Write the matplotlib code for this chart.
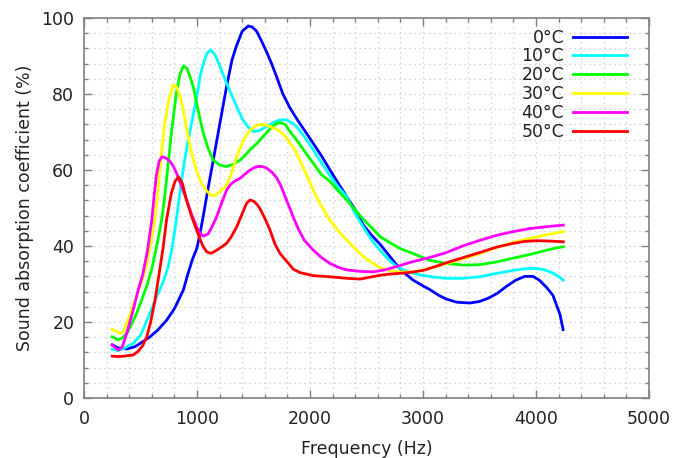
import matplotlib
matplotlib.use("Agg")
import matplotlib.pyplot as plt
from matplotlib.ticker import MultipleLocator

labels = ["0°C", "10°C", "20°C", "30°C", "40°C", "50°C"]
colors = ["#0000ff", "#00ffff", "#00ff00", "#ffff00", "#ff00ff", "#ff0000"]

f0 = [250, 300, 380, 450, 520, 584, 650, 732, 800, 879, 923, 960, 1000, 1027, 1056, 1100, 1144, 1204, 1262, 1310, 1351, 1400, 1454, 1490, 1528, 1570, 1617, 1660, 1705, 1760, 1820, 1882, 1950, 2029, 2100, 2177, 2250, 2325, 2400, 2472, 2540, 2619, 2700, 2767, 2840, 2914, 3000, 3062, 3140, 3209, 3300, 3416, 3500, 3580, 3655, 3740, 3820, 3900, 3973, 4030, 4097, 4150, 4212, 4240]
v0 = [14, 13.2, 12.9, 13.5, 14.8, 16.1, 17.8, 20.5, 23.5, 28.4, 33, 36.5, 39.5, 43.3, 48, 55.5, 62.6, 72.5, 82, 89, 92.8, 96.5, 97.9, 97.6, 96.5, 94, 91, 88, 84.5, 80, 76.5, 73.5, 70.5, 67, 63.8, 60, 56.5, 53, 49.5, 45.5, 43, 40.5, 37.5, 35, 32.8, 31, 29.5, 28.5, 27, 26, 25.2, 25, 25.4, 26.3, 27.5, 29.4, 31, 32, 32, 31, 29, 27, 22, 18]

f10 = [250, 300, 350, 436, 500, 584, 640, 700, 745, 780, 817, 832, 860, 890, 920, 950, 997, 1030, 1056, 1090, 1121, 1160, 1204, 1262, 1310, 1351, 1400, 1440, 1480, 1513, 1560, 1620, 1675, 1735, 1794, 1850, 1882, 1950, 2029, 2100, 2177, 2250, 2325, 2400, 2472, 2540, 2619, 2700, 2767, 2870, 2973, 3100, 3209, 3357, 3504, 3652, 3800, 3900, 4006, 4080, 4153, 4200, 4242]
v10 = [12.8, 12.5, 13, 14.4, 16.5, 22.3, 26.5, 30.5, 34.5, 39.5, 46.8, 50.3, 56.5, 62.5, 67.5, 72, 79, 85, 88, 90.8, 91.6, 90.3, 87.2, 82.8, 79.5, 76.7, 73.5, 71.8, 70.4, 70.1, 70.5, 71.5, 72.5, 73.2, 73.2, 72.2, 71.4, 68.8, 65.3, 62, 58.5, 55.5, 53, 48.5, 45, 41.8, 38.9, 36.3, 34.6, 33.2, 32.4, 31.8, 31.5, 31.5, 31.9, 32.8, 33.6, 34, 34.1, 33.7, 32.8, 32, 31]

f20 = [250, 304, 340, 378, 420, 466, 510, 554, 600, 640, 670, 690, 710, 732, 758, 773, 795, 817, 850, 881, 910, 938, 970, 997, 1030, 1056, 1100, 1144, 1200, 1262, 1320, 1381, 1430, 1469, 1520, 1558, 1620, 1680, 1735, 1780, 1830, 1882, 1950, 2029, 2100, 2177, 2250, 2325, 2400, 2472, 2540, 2619, 2700, 2800, 2914, 3062, 3209, 3350, 3416, 3504, 3650, 3799, 3950, 4094, 4180, 4242]
v20 = [16.1, 15.3, 15.8, 17, 19.3, 22.3, 25.8, 29.3, 34, 39.5, 44, 47.5, 52, 58, 65.3, 69.7, 75, 80.2, 85.3, 87.4, 86.8, 84.6, 81.5, 77.5, 73, 69.7, 65.5, 62.6, 61.3, 60.9, 61.5, 62.6, 64, 65.3, 66.7, 67.9, 70, 71.8, 72.5, 72, 69.8, 67.9, 65, 61.8, 58.8, 57, 54.5, 52.1, 49.5, 47, 45, 42.5, 41, 39.3, 38, 36.2, 35.4, 35, 35, 35.1, 35.8, 36.8, 37.8, 38.9, 39.5, 39.8]

f30 = [250, 319, 350, 378, 420, 466, 510, 550, 590, 625, 650, 669, 690, 714, 750, 788, 820, 850, 880, 908, 940, 970, 1000, 1040, 1085, 1130, 1170, 1220, 1262, 1310, 1351, 1410, 1470, 1528, 1586, 1640, 1700, 1735, 1793, 1850, 1882, 1950, 2029, 2100, 2177, 2250, 2325, 2400, 2472, 2550, 2619, 2700, 2767, 2850, 2914, 2973, 3100, 3209, 3350, 3504, 3650, 3800, 3947, 4100, 4242]
v30 = [18.1, 17, 17.5, 19.7, 23, 27, 30.5, 34.5, 40.5, 46.8, 53, 59.5, 65.5, 72.3, 78.5, 82.4, 81.8, 79.5, 75.5, 71, 66, 62.5, 59.5, 56.5, 54.5, 53.2, 53.5, 54.8, 56, 59.5, 63.5, 67.9, 70.5, 71.8, 72, 71.5, 70.8, 70.2, 68.5, 66, 64.4, 60, 54.7, 50.5, 46.8, 44, 41.6, 39.3, 37.2, 35.6, 34.3, 33.6, 33.2, 33.2, 33.2, 33.5, 34.4, 35.4, 36.6, 38, 39.6, 41, 42, 43, 43.8]

f40 = [250, 304, 340, 378, 436, 480, 520, 560, 600, 620, 640, 665, 690, 720, 761, 790, 820, 860, 908, 950, 997, 1030, 1056, 1100, 1140, 1174, 1220, 1262, 1300, 1340, 1381, 1420, 1469, 1520, 1566, 1610, 1660, 1704, 1740, 1780, 1820, 1860, 1900, 1950, 2029, 2100, 2177, 2250, 2325, 2450, 2560, 2660, 2767, 2900, 3062, 3200, 3350, 3504, 3650, 3800, 3947, 4100, 4242]
v40 = [13.9, 12.6, 13.5, 17, 23.2, 28.5, 32.5, 38.5, 46.8, 53, 58.5, 62.3, 63.5, 63.2, 62.3, 61, 59.1, 56, 52.1, 48.5, 45, 43.2, 42.6, 43.2, 45.5, 47.7, 51.5, 54.7, 56.3, 57.2, 57.8, 58.8, 60, 60.8, 61, 60.6, 59.5, 58, 56, 53, 50, 47, 44.3, 41.5, 38.9, 37, 35.4, 34.4, 33.7, 33.3, 33.2, 33.7, 34.6, 35.8, 37, 38.2, 40, 41.5, 42.8, 43.8, 44.6, 45.1, 45.5]

f50 = [250, 300, 350, 400, 434, 480, 520, 555, 590, 630, 670, 700, 730, 773, 805, 837, 870, 908, 950, 997, 1030, 1056, 1085, 1115, 1140, 1174, 1220, 1262, 1300, 1351, 1400, 1440, 1469, 1500, 1530, 1558, 1600, 1646, 1690, 1735, 1793, 1852, 1912, 2029, 2177, 2325, 2442, 2550, 2619, 2700, 2796, 2900, 3003, 3100, 3209, 3350, 3504, 3650, 3799, 3900, 4006, 4120, 4242]
v50 = [11, 10.9, 11, 11.2, 11.3, 12.3, 13.8, 16.1, 20, 26, 33.7, 39.5, 46.8, 53.9, 57, 58.2, 56.5, 52, 48, 44.2, 41.5, 39.8, 38.5, 38.1, 38.3, 38.9, 39.8, 40.7, 42.3, 45, 48.5, 51.3, 52.1, 51.8, 51, 49.8, 47.3, 44.2, 40.5, 38, 36, 33.9, 33, 32.2, 31.9, 31.5, 31.3, 31.9, 32.3, 32.6, 32.8, 33.1, 33.6, 34.5, 35.6, 36.9, 38.3, 39.7, 40.7, 41.2, 41.4, 41.3, 41.1]

freqs = [f0, f10, f20, f30, f40, f50]
vals = [v0, v10, v20, v30, v40, v50]

xticks = [0, 1000, 2000, 3000, 4000, 5000]
yticks = [0, 20, 40, 60, 80, 100]

plt.rcParams['font.family'] = ['DejaVu Sans']
fig = plt.figure(figsize=(6.73, 4.58), dpi=100)
ax = fig.add_axes([84/673, 1 - 398/458, 565/673, 380/458])

for f, v, c, l in zip(freqs, vals, colors, labels):
    ax.plot(f, v, color=c, lw=2.0, label=l, solid_joinstyle='round')

ax.set_xlim(0, 5000)
ax.set_ylim(0, 100)
ax.set_xticks(xticks)
ax.set_yticks(yticks)
ax.xaxis.set_minor_locator(MultipleLocator(200))
ax.yaxis.set_minor_locator(MultipleLocator(4))
ax.tick_params(which='both', direction='in', top=True, right=True, color='#808080',
               labelsize=12.5, labelcolor='#222222')
ax.tick_params(axis='x', which='both', pad=9)
ax.tick_params(axis='y', which='both', pad=7)
ax.tick_params(which='major', length=6, width=1)
ax.tick_params(which='minor', length=3, width=1)
ax.grid(which='both', color='#c8c8c8', linestyle=(0, (1, 3)), lw=0.9)
ax.set_axisbelow(True)
for s in ax.spines.values():
    s.set_color('#808080')
    s.set_linewidth(1.2)

ax.set_xlabel('Frequency (Hz)', fontsize=12.5, color='#222222', labelpad=8)
ax.set_ylabel('Sound absorption coefficient (%)', fontsize=12.5, color='#222222', labelpad=5)

leg = ax.legend(loc='upper right', bbox_to_anchor=(0.976, 0.995), frameon=False,
                markerfirst=False, fontsize=12.5, handlelength=3.1, labelspacing=0.05,
                handletextpad=0.5, borderpad=0)
for t in leg.get_texts():
    t.set_color('#222222')
    t.set_ha('right')

fig.savefig('out.png', dpi=100, facecolor='white')
